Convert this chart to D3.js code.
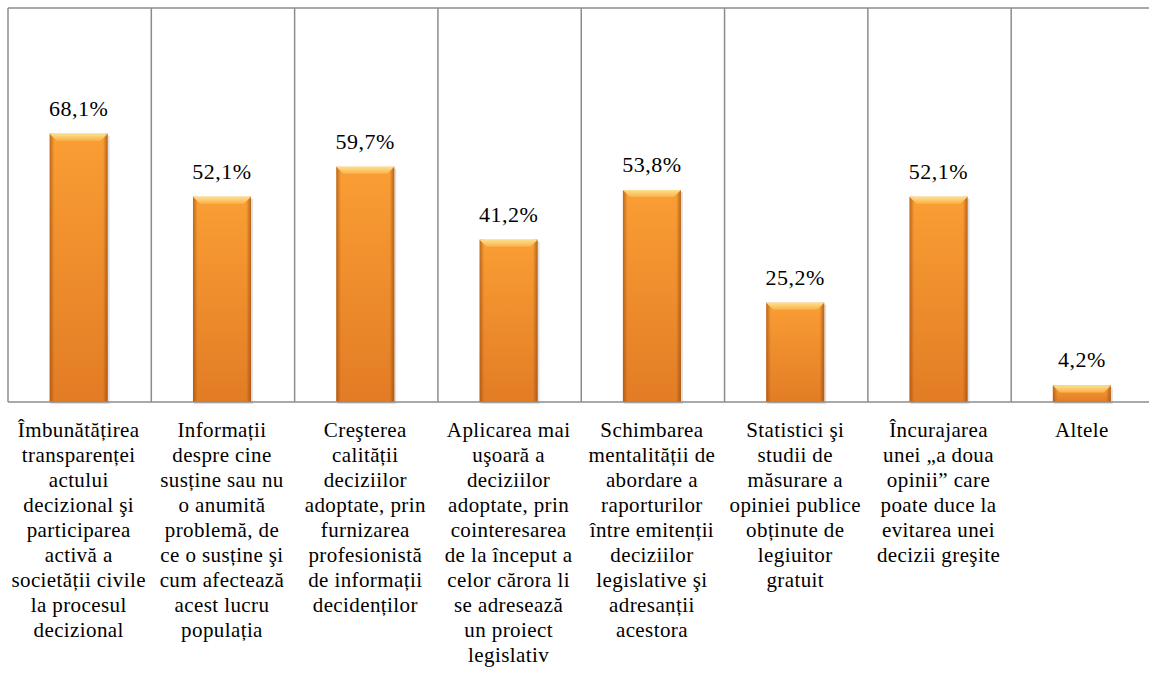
<!DOCTYPE html>
<html>
<head>
<meta charset="utf-8">
<script src="https://cdn.jsdelivr.net/npm/d3@7"></script>
<style>
  body { margin: 0; background: #fff; }
  text { font-family: "Palatino Linotype", "Book Antiqua", "Liberation Serif", serif; fill: #000; }
</style>
</head>
<body>
<div id="chart"></div>
<script>
let categories = [
  ["Îmbunătățirea", "transparenței", "actului", "decizional şi", "participarea", "activă a", "societății civile", "la procesul", "decizional"],
  ["Informații", "despre cine", "susține sau nu", "o anumită", "problemă, de", "ce o susține şi", "cum afectează", "acest lucru", "populația"],
  ["Creşterea", "calității", "deciziilor", "adoptate, prin", "furnizarea", "profesionistă", "de informații", "decidenților"],
  ["Aplicarea mai", "uşoară a", "deciziilor", "adoptate, prin", "cointeresarea", "de la început a", "celor cărora li", "se adresează", "un proiect", "legislativ"],
  ["Schimbarea", "mentalității de", "abordare a", "raporturilor", "între emitenții", "deciziilor", "legislative şi", "adresanții", "acestora"],
  ["Statistici şi", "studii de", "măsurare a", "opiniei publice", "obținute de", "legiuitor", "gratuit"],
  ["Încurajarea", "unei „a doua", "opinii” care", "poate duce la", "evitarea unei", "decizii greşite"],
  ["Altele"]
];
let values = [68.1, 52.1, 59.7, 41.2, 53.8, 25.2, 52.1, 4.2];
let valueLabels = ["68,1%", "52,1%", "59,7%", "41,2%", "53,8%", "25,2%", "52,1%", "4,2%"];

let width = 1149;
let height = 682;
let plotLeft = 8;
let plotRight = 1154.5;
let plotTop = 8;
let baseline = 402;
let barWidth = 58;

let svg = d3.select("#chart").append("svg")
  .attr("width", width)
  .attr("height", height);

let defs = svg.append("defs");

let body = defs.append("linearGradient").attr("id", "barBody")
  .attr("x1", 0).attr("y1", 0).attr("x2", 0).attr("y2", 1);
body.append("stop").attr("offset", "0%").attr("stop-color", "#FA9E34");
body.append("stop").attr("offset", "100%").attr("stop-color", "#E27C25");

let sides = defs.append("linearGradient").attr("id", "barSides")
  .attr("x1", 0).attr("y1", 0).attr("x2", 1).attr("y2", 0);
sides.append("stop").attr("offset", "0%").attr("stop-color", "#8a3e08").attr("stop-opacity", 0.55);
sides.append("stop").attr("offset", "8%").attr("stop-color", "#8a3e08").attr("stop-opacity", 0.0);
sides.append("stop").attr("offset", "92%").attr("stop-color", "#8a3e08").attr("stop-opacity", 0.0);
sides.append("stop").attr("offset", "100%").attr("stop-color", "#8a3e08").attr("stop-opacity", 0.6);

let bevel = defs.append("linearGradient").attr("id", "barBevel")
  .attr("x1", 0).attr("y1", 0).attr("x2", 0).attr("y2", 1);
bevel.append("stop").attr("offset", "0%").attr("stop-color", "#FDE08C");
bevel.append("stop").attr("offset", "100%").attr("stop-color", "#FAB24A");

let x = d3.scaleBand()
  .domain(d3.range(values.length))
  .range([plotLeft, plotRight]);

let y = d3.scaleLinear()
  .domain([0, 100])
  .range([baseline, plotTop]);

// frame and category separators
let grid = svg.append("g").attr("stroke", "#8c8c8c").attr("stroke-width", 1.5);
grid.append("line").attr("x1", plotLeft).attr("x2", plotRight).attr("y1", y(100)).attr("y2", y(100));
grid.selectAll(".sep")
  .data(d3.range(values.length + 1))
  .enter()
  .append("line")
  .attr("class", "sep")
  .attr("x1", function(d) { return plotLeft + d * x.step(); })
  .attr("x2", function(d) { return plotLeft + d * x.step(); })
  .attr("y1", y(100))
  .attr("y2", baseline);

let bars = svg.selectAll(".bar")
  .data(values)
  .enter()
  .append("g")
  .attr("class", "bar")
  .attr("transform", function(d, i) {
    return "translate(" + (x(i) + x.bandwidth() / 2 - barWidth / 2 - 1) + ",0)";
  });

// soft shadow
bars.append("rect")
  .attr("x", 1)
  .attr("y", function(d) { return y(d) + 2; })
  .attr("width", barWidth + 1)
  .attr("height", function(d) { return baseline - y(d); })
  .attr("fill", "#000")
  .attr("opacity", 0.12);

bars.append("rect")
  .attr("x", 0)
  .attr("y", function(d) { return y(d); })
  .attr("width", barWidth)
  .attr("height", function(d) { return baseline - y(d); })
  .attr("fill", "url(#barBody)");

bars.append("rect")
  .attr("x", 0)
  .attr("y", function(d) { return y(d); })
  .attr("width", barWidth)
  .attr("height", function(d) { return baseline - y(d); })
  .attr("fill", "url(#barSides)");

bars.append("path")
  .attr("d", function(d) {
    let t = y(d);
    let b = Math.min(7, (baseline - t) / 2);
    return "M0," + t + "L" + barWidth + "," + t + "L" + (barWidth - b) + "," + (t + b) +
      "L" + b + "," + (t + b) + "Z";
  })
  .attr("fill", "url(#barBevel)");

// baseline on top of bars
svg.append("line")
  .attr("x1", plotLeft).attr("x2", plotRight)
  .attr("y1", baseline).attr("y2", baseline)
  .attr("stroke", "#8c8c8c").attr("stroke-width", 1.5);

svg.selectAll(".value")
  .data(values)
  .enter()
  .append("text")
  .attr("class", "value")
  .attr("x", function(d, i) { return x(i) + x.bandwidth() / 2 - 1; })
  .attr("y", function(d) { return y(d) - 18; })
  .attr("text-anchor", "middle")
  .attr("font-size", 22)
  .attr("letter-spacing", 0.5)
  .text(function(d, i) { return valueLabels[i]; });

let catLabels = svg.selectAll(".cat")
  .data(categories)
  .enter()
  .append("text")
  .attr("class", "cat")
  .attr("text-anchor", "middle")
  .attr("font-size", 21)
  .attr("letter-spacing", 0.4)
  .attr("transform", function(d, i) {
    return "translate(" + (x(i) + x.bandwidth() / 2 - 1) + "," + (baseline + 35) + ")";
  });

catLabels.selectAll("tspan")
  .data(function(d) { return d; })
  .enter()
  .append("tspan")
  .attr("x", 0)
  .attr("y", function(d, i) { return i * 25; })
  .text(function(d) { return d; });
</script>
</body>
</html>
